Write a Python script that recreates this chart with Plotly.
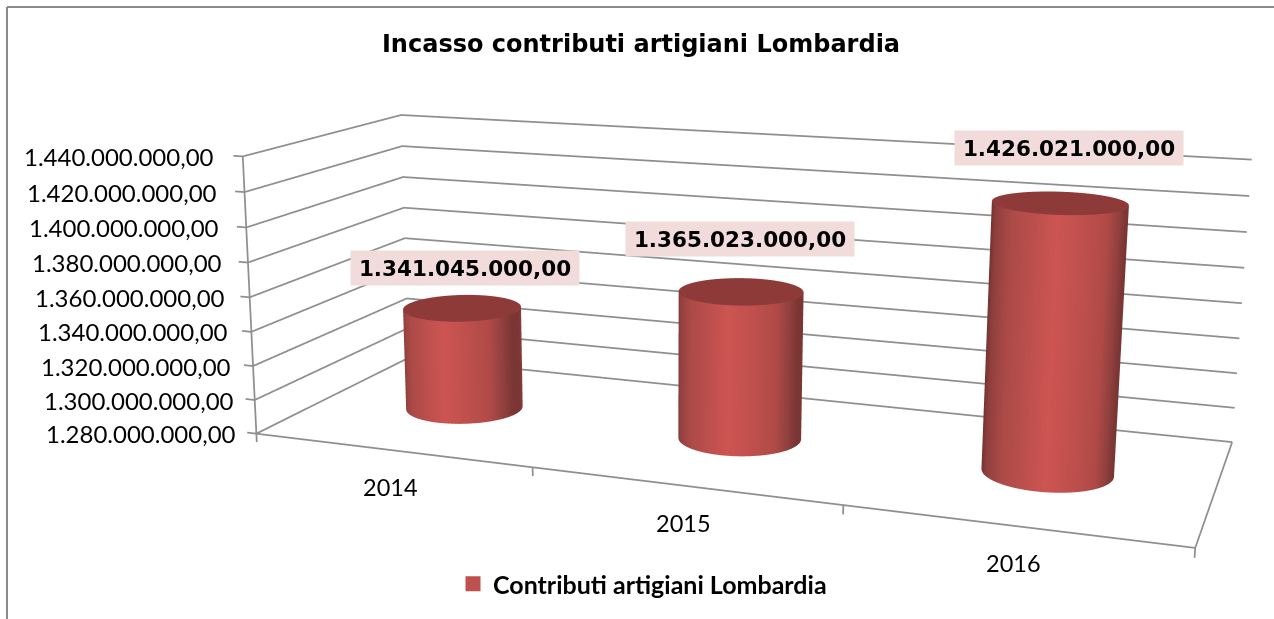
import numpy as np
import plotly.graph_objects as go

categories = ["2014", "2015", "2016"]
values = [1341045000, 1365023000, 1426021000]
value_labels = ["1.341.045.000,00", "1.365.023.000,00", "1.426.021.000,00"]
z_ticks = [1280000000, 1300000000, 1320000000, 1340000000, 1360000000, 1380000000, 1400000000, 1420000000, 1440000000]
z_tick_labels = ["1.280.000.000,00", "1.300.000.000,00", "1.320.000.000,00", "1.340.000.000,00", "1.360.000.000,00",
                 "1.380.000.000,00", "1.400.000.000,00", "1.420.000.000,00", "1.440.000.000,00"]
series_name = "Contributi artigiani Lombardia"
title = "Incasso contributi artigiani Lombardia"

# camera calibrated against the reference's box corners
ay, az = 0.35274, 0.30728
ex, ey, ez = 0.65677, -1.95184, 0.47412
ccx, ccy, ccz = 0.06627, -0.46759, 0.09818
ux, uy = 0.32608, -0.8135
FOV = 2*np.arctan(309.5/1971.78)

z0, z1 = z_ticks[0], z_ticks[-1]
n = len(categories)
# axis ranges carry a little slack around the box so edges and tick marks are not clipped
x_lo, x_hi, y_slack = 0.04, 0.01, 0.01
z_lo, z_hi = 5.5e6, 1.0e6
zs = az/(z1-z0)
shift_x = (x_lo - x_hi)/2/n
shift_z = (z_lo - z_hi)/2*zs

RX = 0.2
RY = RX / n / ay
ang = np.linspace(0, 2*np.pi, 241)
side_scale = [[0, "#6a2f2e"], [0.08, "#8e3f3d"], [0.22, "#ab4a47"], [0.4, "#bb4f4c"], [0.57, "#cd5552"],
              [0.74, "#c0504d"], [0.9, "#b04a47"], [0.97, "#8f403e"], [1, "#7a3634"]]
flat = dict(ambient=1, diffuse=0, specular=0, fresnel=0, roughness=1)
grey = "#8f8f8f"
fig = go.Figure()
# walls, floor and tick marks
wx, wy, wz = [], [], []
for t in z_ticks:
    wx += [-0.035, 0, 0, n, None]; wy += [0, 0, 1, 1, None]; wz += [t, t, t, t, None]
fig.add_trace(go.Scatter3d(x=wx, y=wy, z=wz, mode="lines", line=dict(color=grey, width=3.5), hoverinfo="skip", showlegend=False))
fx = [0, 0, None, 0, n, n]; fy = [0, 0, None, 0, 0, 1]; fz = [z0, z1, None, z0, z0, z0]
for k in range(n + 1):
    fx += [None, k, k]; fy += [None, 0, 0]; fz += [None, z0, z0 - 5e6]
fig.add_trace(go.Scatter3d(x=fx, y=fy, z=fz, mode="lines", line=dict(color=grey, width=3.5), hoverinfo="skip", showlegend=False))
for i, v in enumerate(values):
    cx = i + 0.5
    X = np.vstack([cx + RX*np.cos(ang)]*2)
    Y = np.vstack([0.5 + RY*np.sin(ang)]*2)
    Z = np.array([[z0]*len(ang), [v]*len(ang)], float)
    C = (np.cos(ang) + 1)/2
    fig.add_trace(go.Surface(x=X, y=Y, z=Z, surfacecolor=np.vstack([C, C]), colorscale=side_scale, cmin=0, cmax=1,
                             showscale=False, lighting=flat, hoverinfo="skip", showlegend=False))
    rr = np.array([0, 1.0])
    X = cx + RX*np.outer(rr, np.cos(ang))
    Y = 0.5 + RY*np.outer(rr, np.sin(ang))
    Z = np.full(X.shape, float(v))
    fig.add_trace(go.Surface(x=X, y=Y, z=Z, surfacecolor=np.zeros(X.shape), colorscale=[[0, "#8e3a39"], [1, "#8e3a39"]],
                             cmin=0, cmax=1, showscale=False, lighting=flat, hoverinfo="skip", showlegend=False))
fig.add_trace(go.Scatter3d(x=[0.5], y=[0.5], z=[(z0+values[0])/2], mode="markers", name="<b>%s</b>" % series_name,
                           marker=dict(symbol="square", size=15, color="#c0504d", line=dict(width=0)), hoverinfo="skip"))

hidden_axis = dict(showbackground=False, showspikes=False, zeroline=False, title=dict(text=""), showticklabels=False,
                   ticks="", showgrid=False, showline=False)
label_shift = [(3, 40), (-1, 52), (9, 55)]
annotations = [dict(x=i+0.5, y=0.5, z=v, text="<b>%s</b>" % t, showarrow=False, bgcolor="#f2dcdb", borderpad=2, width=224, height=30,
                    font=dict(family="DejaVu Sans", size=21.5, color="black"), xshift=label_shift[i][0], yshift=label_shift[i][1])
               for i, (v, t) in enumerate(zip(values, value_labels))]
annotations += [dict(x=i+0.5, y=0, z=z0, text=c, showarrow=False, yshift=-37, font=dict(family="Lato", size=23.5, color="black"))
                for i, c in enumerate(categories)]
annotations += [dict(x=0, y=0, z=t, text=s, showarrow=False, xanchor="right", xshift=-18 - 9*k/8, font=dict(family="Lato", size=24, color="black"))
                for k, (t, s) in enumerate(zip(z_ticks, z_tick_labels))]

fig.update_layout(
    width=1274, height=619, margin=dict(l=0, r=0, t=0, b=0), paper_bgcolor="white",
    title=dict(text="<b>%s</b>" % title, x=641/1274, y=1-44/619, xanchor="center", yanchor="middle",
               font=dict(family="DejaVu Sans", size=24, color="black")),
    showlegend=True,
    legend=dict(x=453/1274, y=1-584/619, xanchor="left", yanchor="middle", orientation="h", itemwidth=30,
                font=dict(family="Lato", size=25, color="black"), bgcolor="rgba(0,0,0,0)"),
    scene=dict(
        domain=dict(x=[0, 1], y=[0, 1]),
        aspectmode="manual",
        aspectratio=dict(x=(n+x_lo+x_hi)/n, y=ay*(1+2*y_slack), z=az*(z1-z0+z_lo+z_hi)/(z1-z0)),
        camera=dict(eye=dict(x=ex+shift_x, y=ey, z=ez+shift_z), center=dict(x=ccx+shift_x, y=ccy, z=ccz+shift_z),
                    up=dict(x=ux, y=uy, z=1), projection=dict(type="perspective")),
        xaxis=dict(hidden_axis, range=[-x_lo, n+x_hi]),
        yaxis=dict(hidden_axis, range=[-y_slack, 1+y_slack]),
        zaxis=dict(hidden_axis, range=[z0-z_lo, z1+z_hi]),
        annotations=annotations,
    ),
    shapes=[dict(type="line", xref="paper", yref="paper", x0=7/1274, x1=1, y0=1-7/619, y1=1-7/619, line=dict(color="#8a8a8a", width=2)),
            dict(type="line", xref="paper", yref="paper", x0=7/1274, x1=7/1274, y0=0, y1=1-7/619, line=dict(color="#8a8a8a", width=2))],
)
post = """
document.body.style.margin='0';
var gd=document.getElementById('{plot_id}');
var g=gd._fullLayout.scene._scene.glplot;
g.fovy=%f; g.redraw();
""" % FOV
fig.write_html("out.html", post_script=post, config={"displayModeBar": False})
